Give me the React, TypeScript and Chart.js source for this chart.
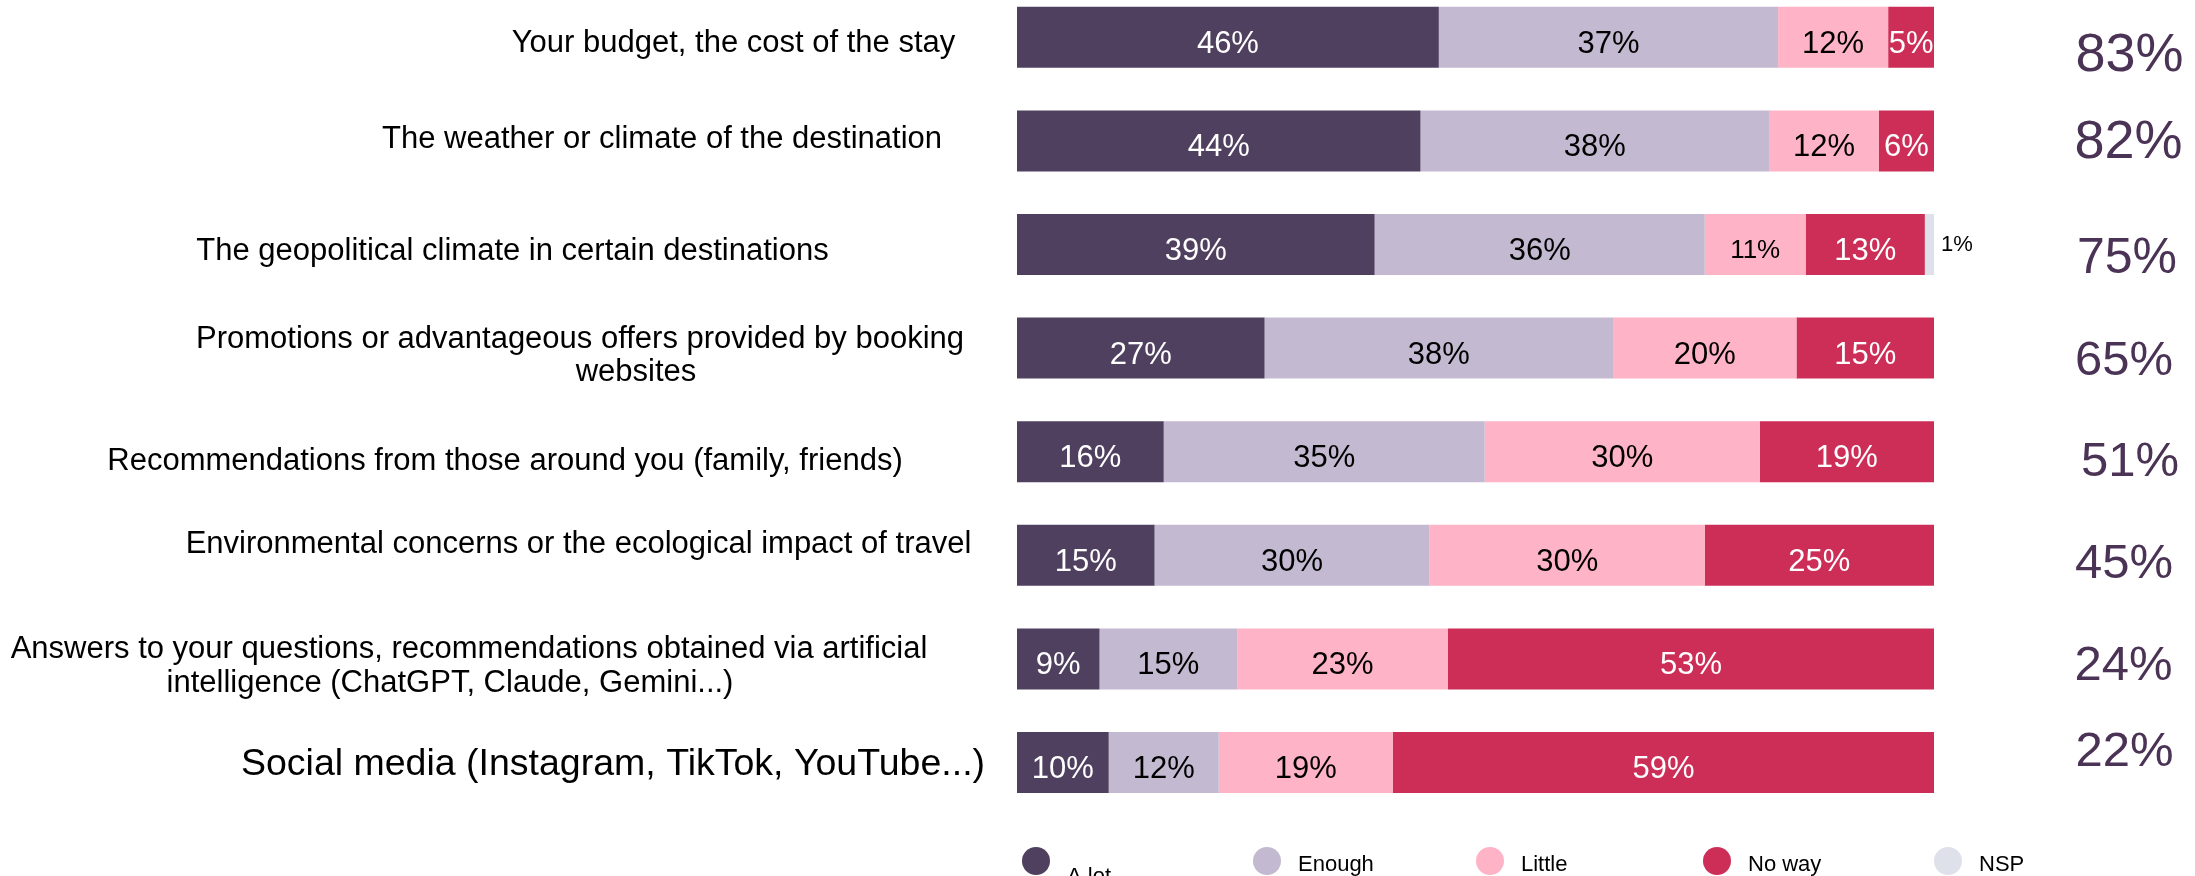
import React, { useEffect, useRef } from "react";
import { Chart, registerables } from "chart.js";

Chart.register(...registerables);

// ---------- DATA ----------
const categories: string[][] = [
  ["Your budget, the cost of the stay"],
  ["The weather or climate of the destination"],
  ["The geopolitical climate in certain destinations"],
  ["Promotions or advantageous offers provided by booking", "websites"],
  ["Recommendations from those around you (family, friends)"],
  ["Environmental concerns or the ecological impact of travel"],
  ["Answers to your questions, recommendations obtained via artificial", "intelligence (ChatGPT, Claude, Gemini...)"],
  ["Social media (Instagram, TikTok, YouTube...)"],
];

const seriesNames = ["A lot", "Enough", "Little", "No way", "NSP"];

const aLot = [46, 44, 39, 27, 16, 15, 9, 10];
const enough = [37, 38, 36, 38, 35, 30, 15, 12];
const little = [12, 12, 11, 20, 30, 30, 23, 19];
const noWay = [5, 6, 13, 15, 19, 25, 53, 59];
const nsp = [0, 0, 1, 0, 0, 0, 0, 0];

// ---------- STYLES / LAYOUT ----------
const COLORS = ["#4f405f", "#c3b9d0", "#feb3c6", "#cc2e57", "#dee1ea"];
const LABEL_COLORS = ["#ffffff", "#000000", "#000000", "#ffffff", "#000000"];
const FONT = '"Liberation Sans", Arial, sans-serif';

// left label layout: per row font size, and per line center x and cap-center offset from bar center
const leftLayout = [
  { size: 31, lines: [{ cx: 733.5, dy: 4 }] },
  { size: 31, lines: [{ cx: 662, dy: -4 }] },
  { size: 31, lines: [{ cx: 512.5, dy: 4 }] },
  { size: 31, lines: [{ cx: 580, dy: -11 }, { cx: 636, dy: 22 }] },
  { size: 31, lines: [{ cx: 505, dy: 7 }] },
  { size: 31, lines: [{ cx: 578.5, dy: -13 }] },
  { size: 31, lines: [{ cx: 469, dy: -12 }, { cx: 450, dy: 22.5 }] },
  { size: 37.5, lines: [{ cx: 613, dy: -1 }] },
];

// right totals layout
const rightLayout = [
  { cx: 2129.5, dy: 14.4, size: 54 },
  { cx: 2128.5, dy: -2.7, size: 54 },
  { cx: 2127, dy: 10.6, size: 50 },
  { cx: 2124, dy: 9.7, size: 49 },
  { cx: 2130, dy: 7.2, size: 49 },
  { cx: 2124, dy: 5.5, size: 49 },
  { cx: 2123.5, dy: 4, size: 49 },
  { cx: 2124.5, dy: -14.5, size: 49 },
];

const legendX = [1036, 1267, 1490, 1717, 1948];
const legendTextDy = [14, 2, 2, 2, 2];

const valueLabelsPlugin = {
  id: "valueLabels",
  afterDatasetsDraw(chart: any) {
    const ctx = chart.ctx;
    ctx.save();
    chart.data.datasets.forEach((ds: any, di: number) => {
      const meta = chart.getDatasetMeta(di);
      meta.data.forEach((bar: any, i: number) => {
        const v = ds.data[i];
        if (!v) return;
        const p = bar.getProps(["x", "y", "base"], true);
        if (di === 4) {
          const size = 22;
          ctx.font = `${size}px ${FONT}`;
          ctx.fillStyle = "#000000";
          ctx.textAlign = "left";
          ctx.textBaseline = "alphabetic";
          ctx.fillText(`${v}%`, p.x + 7, p.y - 1 + 0.358 * size);
          return;
        }
        const size = di === 2 && i === 2 ? 26 : 31;
        ctx.font = `${size}px ${FONT}`;
        ctx.fillStyle = LABEL_COLORS[di];
        ctx.textAlign = "center";
        ctx.textBaseline = "alphabetic";
        ctx.fillText(`${v}%`, (p.x + p.base) / 2, p.y + 4.5 + 0.358 * size);
      });
    });
    ctx.restore();
  },
};

const sideTextPlugin = {
  id: "sideText",
  afterDraw(chart: any) {
    const ctx = chart.ctx;
    const yScale = chart.scales.y;
    ctx.save();
    ctx.textBaseline = "alphabetic";
    ctx.textAlign = "center";
    categories.forEach((lines, i) => {
      const yc = yScale.getPixelForValue(i);
      const lay = leftLayout[i];
      ctx.font = `${lay.size}px ${FONT}`;
      ctx.fillStyle = "#000000";
      lines.forEach((line, li) => {
        const l = lay.lines[li];
        ctx.fillText(line, l.cx, yc + l.dy + 0.358 * lay.size);
      });
      const total = aLot[i] + enough[i];
      const r = rightLayout[i];
      ctx.font = `${r.size}px ${FONT}`;
      ctx.fillStyle = "#4b3356";
      ctx.fillText(`${total}%`, r.cx, yc + r.dy + 0.358 * r.size);
    });
    // legend
    const legY = 861;
    chart.data.datasets.forEach((ds: any, di: number) => {
      const cx = legendX[di];
      ctx.beginPath();
      ctx.arc(cx, legY, 14, 0, Math.PI * 2);
      ctx.fillStyle = ds.backgroundColor;
      ctx.fill();
      ctx.font = `22px ${FONT}`;
      ctx.fillStyle = "#000000";
      ctx.textAlign = "left";
      ctx.fillText(ds.label, cx + 31, legY + legendTextDy[di] + 0.358 * 22);
    });
    ctx.restore();
  },
};

export default function App() {
  const ref = useRef<HTMLCanvasElement | null>(null);
  useEffect(() => {
    document.body.style.margin = "0";
    if (!ref.current) return;
    const series = [aLot, enough, little, noWay, nsp];
    const chart = new Chart(ref.current, {
      type: "bar",
      data: {
        labels: categories.map((c) => c.join(" ")),
        datasets: series.map((d, i) => ({
          label: seriesNames[i],
          data: d,
          backgroundColor: COLORS[i],
          borderWidth: 0,
          categoryPercentage: 1,
          barPercentage: 0.589,
          clip: false as any,
        })),
      },
      options: {
        indexAxis: "y",
        responsive: false,
        animation: false,
        events: [],
        layout: { padding: { left: 1017, right: 261, top: 37.3, bottom: 113.5 } },
        scales: {
          x: { type: "linear", min: 0, max: 100, stacked: true, display: false },
          y: { type: "category", stacked: true, display: false, offset: false },
        },
        plugins: {
          legend: { display: false },
          tooltip: { enabled: false },
        },
      } as any,
      plugins: [valueLabelsPlugin, sideTextPlugin],
    });
    return () => chart.destroy();
  }, []);
  return (
    <div style={{ width: 2195, height: 876 }}>
      <canvas ref={ref} width={2195} height={876} style={{ display: "block" }} />
    </div>
  );
}
